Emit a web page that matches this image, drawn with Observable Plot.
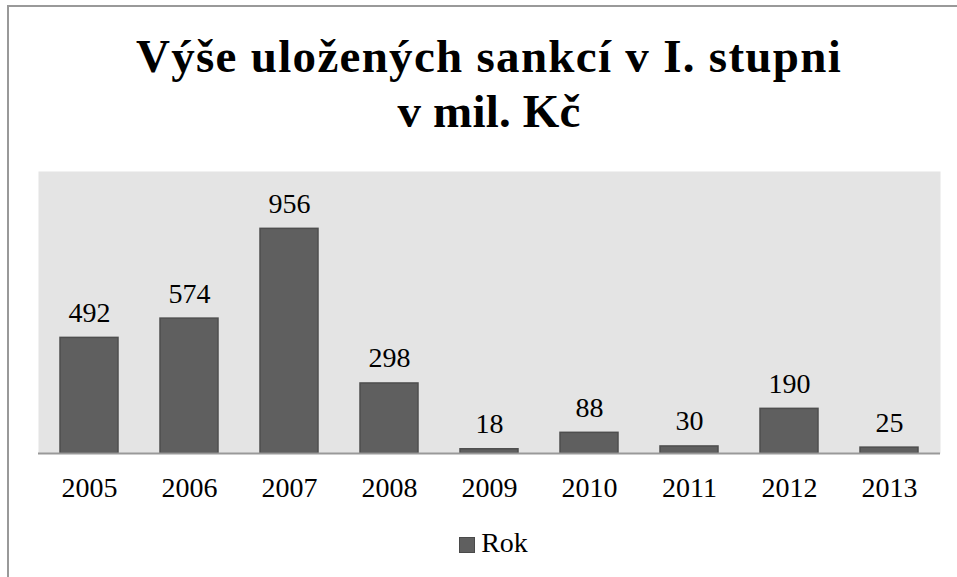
<!DOCTYPE html>
<html>
<head>
<meta charset="utf-8">
<script src="https://cdn.jsdelivr.net/npm/d3@7"></script>
<script src="https://cdn.jsdelivr.net/npm/@observablehq/plot@0.6"></script>
<style>
  html, body { margin: 0; padding: 0; background: #fff; }
  #wrap { position: relative; width: 957px; height: 577px; overflow: hidden; background: #fff; }
  #frame { position: absolute; left: 7px; top: 5px; right: -5px; bottom: -5px;
           border-top: 2px solid #999; border-left: 2px solid #999; }
  #title { position: absolute; left: 21px; width: 936px; top: 29px; text-align: center;
           font-family: "Liberation Serif", serif; font-weight: bold; font-size: 47px;
           line-height: 55px; color: #000; }
  #title span { white-space: nowrap; }
  #chart { position: absolute; left: 0; top: 150px; }
  #legend { position: absolute; left: 0; top: 528px; width: 957px; text-align: center;
            font-family: "Liberation Serif", serif; font-size: 28px; color: #000; line-height: 30px; }
  #legend .sw { display: inline-block; width: 14px; height: 14px; background: #5f5f5f;
                border: 1px solid #4a4a4a; margin-right: 6px; vertical-align: -1px; margin-left: 30px; }
</style>
</head>
<body>
<div id="wrap">
  <div id="frame"></div>
  <div id="title"><span id="t1">Výše uložených sankcí v I. stupni</span><br><span id="t2">v mil. Kč</span></div>
  <div id="chart"></div>
  <div id="legend"><span class="sw"></span>Rok</div>
</div>
<script>
const years = ["2005", "2006", "2007", "2008", "2009", "2010", "2011", "2012", "2013"];
const values = [492, 574, 956, 298, 18, 88, 30, 190, 25];
const seriesName = "Rok";

const data = years.map((y, i) => ({year: y, value: values[i]}));

// stretch title lines to the widths seen in the reference
[["t1", 706], ["t2", 183]].forEach(([id, target]) => {
  const el = document.getElementById(id);
  const w = el.getBoundingClientRect().width;
  const n = el.textContent.length;
  el.style.letterSpacing = ((target - w) / n) + "px";
});

const chart = Plot.plot({
  width: 957,
  height: 370,
  marginTop: 21,
  marginBottom: 67,
  marginLeft: 38,
  marginRight: 17,
  style: {fontFamily: "Liberation Serif, serif", fontSize: "28px", color: "#000", background: "transparent"},
  x: {domain: years, paddingInner: 0.42, paddingOuter: 0.21, label: null},
  y: {domain: [0, 1200], axis: null},
  marks: [
    Plot.frame({fill: "#e4e4e4", stroke: null}),
    Plot.barY(data, {x: "year", y: "value", fill: "#5f5f5f", stroke: "#4e4e4e", strokeWidth: 1.5}),
    Plot.text(data, {x: "year", y: "value", text: d => String(d.value), lineAnchor: "bottom", dy: -16, fontSize: 28, fill: "#000"}),
    Plot.ruleY([0], {stroke: "#999", strokeWidth: 2}),
    Plot.axisX({tickSize: 0, tickPadding: 24, fontSize: 28, fill: "#000"})
  ]
});
document.getElementById("chart").appendChild(chart);
</script>
</body>
</html>
